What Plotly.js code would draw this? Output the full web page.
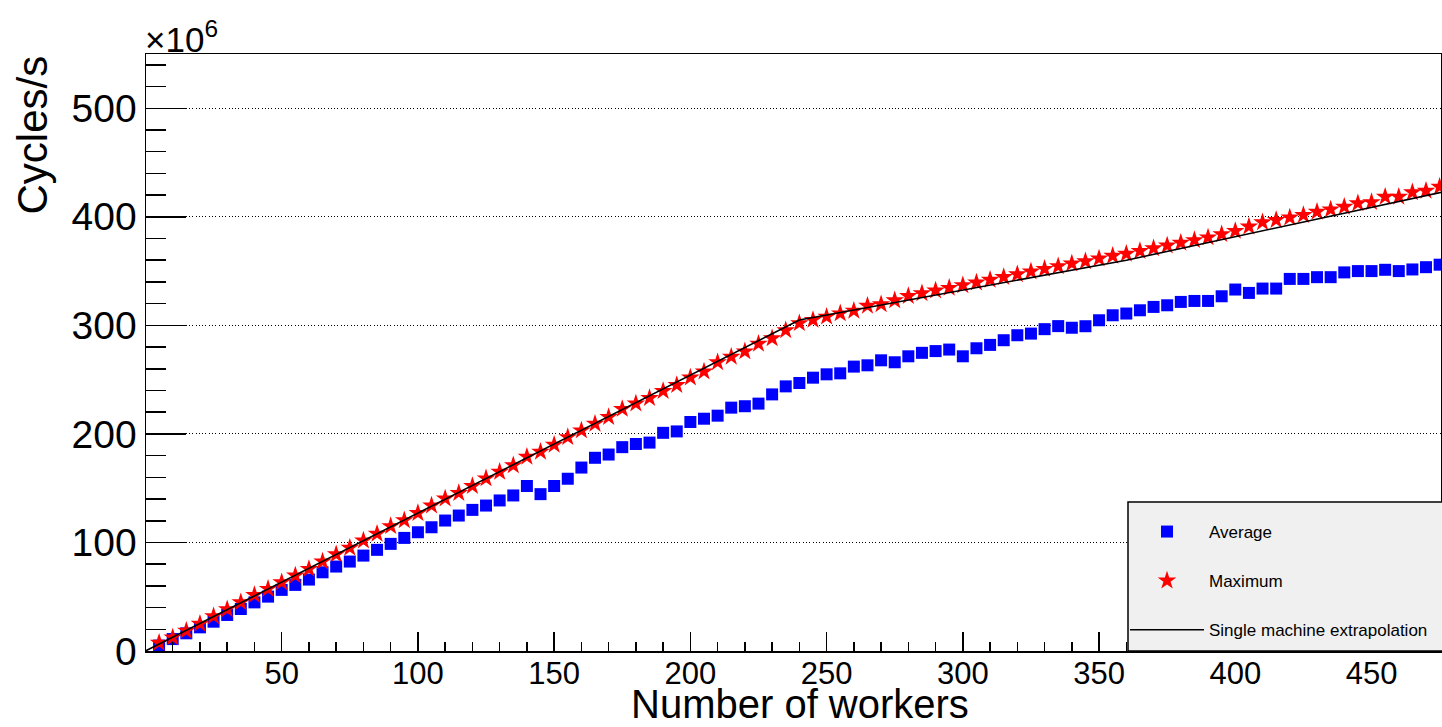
<!DOCTYPE html>
<html><head><meta charset="utf-8">
<script src="https://cdn.plot.ly/plotly-3.0.1.min.js"></script>
<style>html,body{margin:0;padding:0;background:#fff}#chart{width:1442px;height:727px}</style>
</head><body><div id="chart"></div>
<script>
// Number of workers
const workers = [5,10,15,20,25,30,35,40,45,50,55,60,65,70,75,80,85,90,95,100,
  105,110,115,120,125,130,135,140,145,150,155,160,165,170,175,180,185,190,195,200,
  205,210,215,220,225,230,235,240,245,250,255,260,265,270,275,280,285,290,295,300,
  305,310,315,320,325,330,335,340,345,350,355,360,365,370,375,380,385,390,395,400,
  405,410,415,420,425,430,435,440,445,450,455,460,465,470,475];
// Cycles/s in units of 10^6
const average = [5,11,16.3,21.8,27,33.2,38.7,44.8,50.1,56.3,60.9,65.8,72.5,77.8,82.4,87.9,93.2,98.7,104.2,109.4,
  114,120.2,124.8,130,134,138.7,143.3,152,144.5,152,158.7,169,178,181,187.8,190.7,192,201,202.3,211,
  214,216.8,224.2,225.5,227.9,236.4,243.8,246.9,251.8,254.9,255.8,262,263.2,267.8,266,271.5,274.7,276.3,277.7,271.5,
  278.9,282,286.3,290.9,292.4,296.5,299.3,297.8,299.2,304.7,309.3,310.9,313.9,317,318.5,321.6,322.5,322.5,326.8,333,
  329.9,333.9,333.9,342.8,342.8,344.4,344.4,348.8,350,350,351.2,350,351.5,353.6,355.9];
const maximum = [7.5,12.5,18.7,25,32,38.5,44.8,51.5,57.2,63.3,69.5,75.6,82.5,89,95,101.8,108,115,120.5,127,
  134,140.5,145.5,152,159,165,171,179,183.5,190,197,203.2,209.4,215.5,223,228,233,239.5,245,252,
  257.5,266,271,276,283,288,295.5,302,305,308,311,313.5,318,319.5,323,327,329.5,332,334.5,337,
  339.5,342,344.5,347,349.5,352,354.5,357,359,361.5,364,366,368.5,371,373.5,376,378.5,381,384,387,
  391,395,397,399.4,401.6,404.6,406.8,409.2,412.5,413.5,418.5,418.5,422.5,424,427.7];
// Single machine extrapolation
const extrapWorkers = [0,240,360,480];
const extrapCycles = [0,305,360,425];

const FONT = 'Liberation Sans, Arial, Helvetica, sans-serif';

const traces = [
  {x: workers, y: average, type: 'scatter', mode: 'markers', name: 'Average', legendgroup: 'a',
   marker: {symbol: 'square', size: 12, color: '#0000ff'}},
  {x: workers, y: maximum, type: 'scatter', mode: 'markers', name: 'Maximum', legendgroup: 'b',
   marker: {symbol: 'star', size: 14, color: '#ff0000'}},
  {x: extrapWorkers, y: extrapCycles, type: 'scatter', mode: 'lines', name: 'Single machine extrapolation', legendgroup: 'c',
   line: {color: '#000000', width: 1.6}}
];

const L = 146, R = 1, T = 54, B = 76, W = 1442, H = 727;
const pw = W - L - R, ph = H - T - B;
function px2x(p){ return (p - L) / pw; }
function py2y(p){ return (H - B - p) / ph; }

const layout = {
  width: W, height: H,
  margin: {l: L, r: R, t: T, b: B, pad: 0},
  paper_bgcolor: '#ffffff', plot_bgcolor: '#ffffff',
  font: {family: FONT, color: '#000'},
  showlegend: true,
  xaxis: {
    range: [0.2, 475.5], showline: true, linecolor: '#000', linewidth: 1.5, mirror: true,
    ticks: 'inside', ticklen: 19, tickwidth: 1.5, tickcolor: '#000',
    tick0: 0, dtick: 50, showgrid: false, zeroline: false,
    ticklabelstandoff: -6,
    tickfont: {size: 31, family: FONT, color: '#000'},
    minor: {dtick: 10, ticks: 'inside', ticklen: 9, tickwidth: 1.5, tickcolor: '#000', showgrid: false}
  },
  yaxis: {
    range: [0, 550], showline: true, linecolor: '#000', linewidth: 1.5, mirror: true,
    ticks: 'inside', ticklen: 40, tickwidth: 1.5, tickcolor: '#000',
    tick0: 0, dtick: 100, showgrid: true, gridcolor: '#000', gridwidth: 1, griddash: '1px,2.3px',
    zeroline: false,
    tickfont: {size: 39, family: FONT, color: '#000'},
    minor: {dtick: 20, ticks: 'inside', ticklen: 20, tickwidth: 1.5, tickcolor: '#000', showgrid: false}
  },
  legend: {
    x: px2x(1125), y: py2y(514), xanchor: 'left', yanchor: 'top',
    bgcolor: 'rgba(0,0,0,0)', borderwidth: 0,
    font: {size: 17, family: FONT, color: '#000'},
    tracegroupgap: 24, itemwidth: 74, traceorder: 'grouped'
  },
  shapes: [
    {type: 'rect', xref: 'paper', yref: 'paper', x0: px2x(1128), x1: px2x(1443), y0: 0, y1: py2y(502),
     fillcolor: '#f0f0f0', line: {color: '#000', width: 1.5}, layer: 'above'}
  ],
  annotations: [
    {text: 'Number of workers', xref: 'paper', yref: 'paper', x: px2x(800), y: py2y(680),
     xanchor: 'center', yanchor: 'top', showarrow: false, font: {size: 40, family: FONT, color: '#000'}},
    {text: 'Cycles/s', textangle: -90, xref: 'paper', yref: 'paper', x: px2x(32), y: 1,
     xanchor: 'center', yanchor: 'top', showarrow: false, font: {size: 42, family: FONT, color: '#000'}},
    {text: '×10<sup>6</sup>', xref: 'paper', yref: 'paper', x: px2x(143), y: py2y(61),
     xanchor: 'left', yanchor: 'bottom', showarrow: false, font: {size: 35, family: FONT, color: '#000'}}
  ]
};

Plotly.newPlot('chart', traces, layout, {displayModeBar: false, staticPlot: true});
</script>
</body></html>
